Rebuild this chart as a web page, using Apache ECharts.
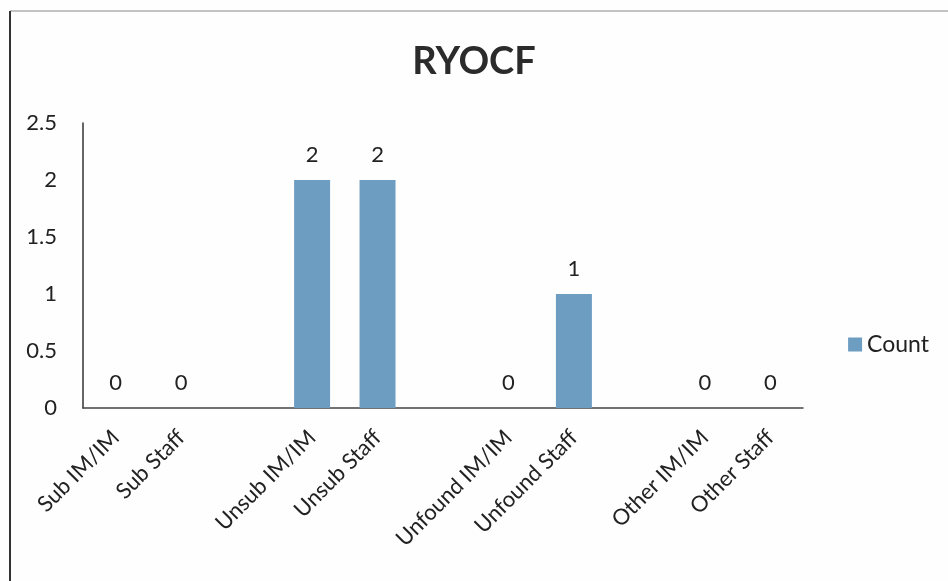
<!DOCTYPE html>
<html>
<head>
<meta charset="utf-8">
<script src="https://cdn.jsdelivr.net/npm/echarts@6/dist/echarts.min.js"></script>
<style>
html,body{margin:0;padding:0;background:#fff;}
#c{width:948px;height:581px;}
</style>
</head>
<body>
<div id="c"></div>
<script>
const categories = ['Sub IM/IM','Sub Staff','','Unsub IM/IM','Unsub Staff','','Unfound IM/IM','Unfound Staff','','Other IM/IM','Other Staff'];
const counts = [0, 0, null, 2, 2, null, 0, 1, null, 0, 0];
const yTicks = { min: 0, max: 2.5, interval: 0.5 };
const seriesName = 'Count';
const titleText = 'RYOCF';

const FONT = 'Lato, "Open Sans", sans-serif';
const chart = echarts.init(document.getElementById('c'), null, {renderer: 'canvas'});
chart.setOption({
  animation: false,
  backgroundColor: '#fefefe',
  title: {
    text: titleText, left: 'center', top: 38,
    textStyle: {fontFamily: FONT, fontSize: 38, fontWeight: 'bold', color: '#2b2b2b'}
  },
  legend: {
    data: [seriesName], right: 14, top: 328, orient: 'vertical',
    itemWidth: 14, itemHeight: 14, itemGap: 6,
    icon: 'rect',
    textStyle: {fontFamily: FONT, fontSize: 23, color: '#222'}
  },
  grid: {left: 83, right: 145, top: 123, bottom: 173, containLabel: false},
  xAxis: {
    type: 'category', data: categories,
    axisLine: {lineStyle: {color: '#444', width: 1.5}},
    axisTick: {show: false},
    axisLabel: {rotate: 45, interval: 0, margin: 26, fontFamily: FONT, fontSize: 22, color: '#222'}
  },
  yAxis: {
    type: 'value', min: yTicks.min, max: yTicks.max, interval: yTicks.interval,
    axisLine: {show: true, lineStyle: {color: '#333', width: 1.5}},
    axisTick: {show: false},
    splitLine: {show: false},
    axisLabel: {margin: 26, fontFamily: FONT, fontSize: 22, color: '#222'}
  },
  series: [{
    name: seriesName, type: 'bar', data: counts, barWidth: 36,
    itemStyle: {color: '#6e9dc2', borderColor: '#44769c', borderWidth: 0},
    label: {show: true, position: 'top', distance: 14, fontFamily: FONT, fontSize: 22, color: '#222'}
  }],
  graphic: [
    {type: 'line', shape: {x1: 10, y1: 11, x2: 948, y2: 11}, style: {stroke: '#888', lineWidth: 1}},
    {type: 'line', shape: {x1: 10, y1: 11, x2: 10, y2: 581}, style: {stroke: '#333', lineWidth: 2}}
  ]
});
</script>
</body>
</html>
